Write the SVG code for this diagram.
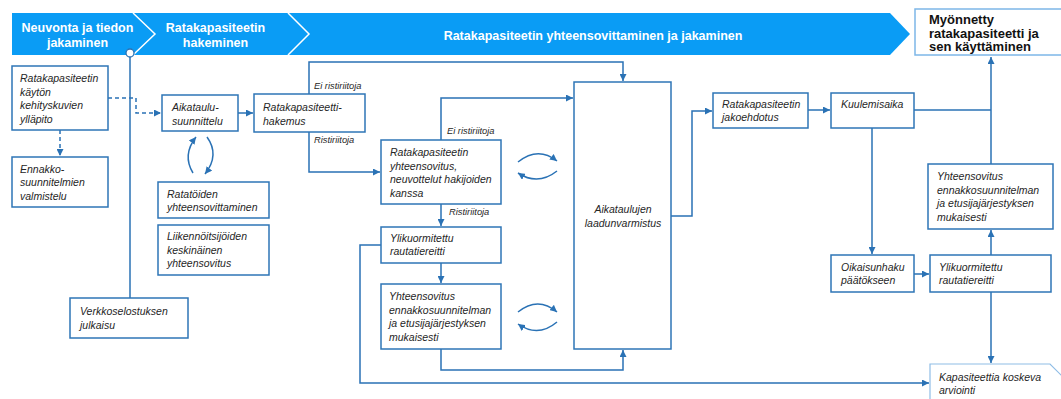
<svg xmlns="http://www.w3.org/2000/svg" width="1061" height="399" viewBox="0 0 1061 399">
<style>
.bx{fill:#fff;stroke:#2E75B6;stroke-width:1.5}
.t{font-family:"Liberation Sans",Arial,sans-serif;font-style:italic;font-size:10.5px;fill:#262626}
.lb{font-family:"Liberation Sans",Arial,sans-serif;font-style:italic;font-size:9.3px;fill:#262626}
.h{font-family:"Liberation Sans",Arial,sans-serif;font-weight:bold;font-size:12.5px;fill:#fff;text-anchor:middle}
.c{fill:none;stroke:#2A72B5;stroke-width:1.5}
.d{fill:none;stroke:#2A72B5;stroke-width:1.5;stroke-dasharray:4 3}
</style>
<defs>
<marker id="ah" viewBox="0 0 10 10" refX="10" refY="5" markerWidth="7" markerHeight="7" orient="auto" markerUnits="userSpaceOnUse"><path d="M0,0 L10,5 L0,10 z" fill="#2A72B5"/></marker>
</defs>
<g id="header">
<path d="M12,13 H890 L910,34 L890,55 H12 Z" fill="#0A9CF5"/>
<polyline points="133,13 155,34 133,55" fill="none" stroke="#fff" stroke-width="1.5"/>
<polyline points="288,13 309,34 288,55" fill="none" stroke="#fff" stroke-width="1.5"/>
<text class="h" x="77.5" y="32">Neuvonta ja tiedon</text>
<text class="h" x="77.5" y="47">jakaminen</text>
<text class="h" x="215.5" y="32">Ratakapasiteetin</text>
<text class="h" x="215.5" y="47">hakeminen</text>
<text class="h" x="593" y="40">Ratakapasiteetin yhteensovittaminen ja jakaminen</text>
</g>
<g id="myonnetty">
<rect x="915" y="9" width="150" height="46" fill="#fff" stroke="#7DB7E8" stroke-width="1.5"/>
<text font-family="Liberation Sans,Arial,sans-serif" font-weight="bold" font-size="13" fill="#111"><tspan x="929" y="24">Myönnetty</tspan><tspan x="929" y="37.5">ratakapasiteetti ja</tspan><tspan x="929" y="51">sen käyttäminen</tspan></text>
</g>
<g id="connectors">
<path class="d" d="M60,130 V156" marker-end="url(#ah)"/>
<path class="d" d="M108,98 H136 V113 H161" marker-end="url(#ah)"/>
<path class="c" d="M130,57 V298"/>
<circle cx="130" cy="53" r="4" fill="#fff" stroke="#2A72B5" stroke-width="1.3"/>
<path class="c" d="M238,113 H253" marker-end="url(#ah)"/>
<path class="c" d="M309,94 V62 H623 V81" marker-end="url(#ah)"/>
<path class="c" d="M309,132 V172 H380" marker-end="url(#ah)"/>
<path class="c" d="M441,140 V98 H573" marker-end="url(#ah)"/>
<path class="c" d="M441,204 V226" marker-end="url(#ah)"/>
<path class="c" d="M381,245 H360 V383 H929" marker-end="url(#ah)"/>
<path class="c" d="M441,263 V283" marker-end="url(#ah)"/>
<path class="c" d="M441,349 V370 H623 V350" marker-end="url(#ah)"/>
<path class="c" d="M671,216 H692 V111 H712" marker-end="url(#ah)"/>
<path class="c" d="M808,110 H830" marker-end="url(#ah)"/>
<path class="c" d="M914,110 H991"/>
<path class="c" d="M991,164 V57" marker-end="url(#ah)"/>
<path class="c" d="M872,128 V254" marker-end="url(#ah)"/>
<path class="c" d="M914,274 H929" marker-end="url(#ah)"/>
<path class="c" d="M991,255 V230" marker-end="url(#ah)"/>
<path class="c" d="M991,292 V363" marker-end="url(#ah)"/>
<path class="c" d="M193,173 Q182,155 196,137" marker-end="url(#ah)"/>
<path class="c" d="M207,137 Q220,155 205,174" marker-end="url(#ah)"/>
<path class="c" d="M518,162 Q538,146 557,161" marker-end="url(#ah)"/>
<path class="c" d="M557,171 Q538,186 518,173" marker-end="url(#ah)"/>
<path class="c" d="M518,312 Q538,296 557,312" marker-end="url(#ah)"/>
<path class="c" d="M557,322 Q538,338 518,324" marker-end="url(#ah)"/>
<text class="lb" x="314" y="89">Ei ristiriitoja</text>
<text class="lb" x="314" y="143">Ristiriitoja</text>
<text class="lb" x="447" y="134">Ei ristiriitoja</text>
<text class="lb" x="449" y="215">Ristiriitoja</text>
</g>
<g id="n1"><rect class="bx" x="12" y="66" width="96" height="64"/><text class="t"><tspan x="20" y="82">Ratakapasiteetin</tspan><tspan x="20" y="95.5">käytön</tspan><tspan x="20" y="109">kehityskuvien</tspan><tspan x="20" y="122.5">ylläpito</tspan></text></g>
<g id="n2"><rect class="bx" x="12" y="157" width="96" height="50"/><text class="t"><tspan x="20" y="173">Ennakko-</tspan><tspan x="20" y="186">suunnitelmien</tspan><tspan x="20" y="199.5">valmistelu</tspan></text></g>
<g id="n3"><rect class="bx" x="162" y="95" width="76" height="36"/><text class="t"><tspan x="172" y="111">Aikataulu-</tspan><tspan x="172" y="124.5">suunnittelu</tspan></text></g>
<g id="n4"><rect class="bx" x="254" y="94" width="111" height="38"/><text class="t"><tspan x="263" y="111">Ratakapasiteetti-</tspan><tspan x="263" y="124.5">hakemus</tspan></text></g>
<g id="n5"><rect class="bx" x="381" y="140" width="120" height="64"/><text class="t"><tspan x="390" y="156">Ratakapasiteetin</tspan><tspan x="390" y="169.5">yhteensovitus,</tspan><tspan x="390" y="183">neuvottelut hakijoiden</tspan><tspan x="390" y="196.5">kanssa</tspan></text></g>
<g id="n6"><rect class="bx" x="381" y="227" width="120" height="36"/><text class="t"><tspan x="390" y="241.5">Ylikuormitettu</tspan><tspan x="390" y="255">rautatiereitti</tspan></text></g>
<g id="n7"><rect class="bx" x="381" y="284" width="120" height="65"/><text class="t"><tspan x="389" y="300">Yhteensovitus</tspan><tspan x="389" y="313.5">ennakkosuunnitelman</tspan><tspan x="389" y="327">ja etusijajärjestyksen</tspan><tspan x="389" y="340.5">mukaisesti</tspan></text></g>
<g id="n8"><rect class="bx" x="158" y="182" width="111" height="36"/><text class="t"><tspan x="167" y="197.5">Ratatöiden</tspan><tspan x="167" y="211">yhteensovittaminen</tspan></text></g>
<g id="n9"><rect class="bx" x="158" y="225" width="111" height="50"/><text class="t"><tspan x="167" y="240">Liikennöitsijöiden</tspan><tspan x="167" y="253.5">keskinäinen</tspan><tspan x="167" y="267">yhteensovitus</tspan></text></g>
<g id="n10"><rect class="bx" x="70" y="298" width="118" height="40"/><text class="t"><tspan x="80" y="315">Verkkoselostuksen</tspan><tspan x="80" y="328.5">julkaisu</tspan></text></g>
<g id="n11"><rect class="bx" x="574" y="82" width="97" height="267"/><text class="t" text-anchor="middle"><tspan x="623" y="213">Aikataulujen</tspan><tspan x="623" y="226.5">laadunvarmistus</tspan></text></g>
<g id="n12"><rect class="bx" x="713" y="93" width="95" height="35"/><text class="t"><tspan x="722" y="107.5">Ratakapasiteetin</tspan><tspan x="722" y="121">jakoehdotus</tspan></text></g>
<g id="n13"><rect class="bx" x="831" y="93" width="83" height="35"/><text class="t"><tspan x="841" y="107.5">Kuulemisaika</tspan></text></g>
<g id="n14"><rect class="bx" x="831" y="255" width="83" height="37"/><text class="t"><tspan x="841" y="270.5">Oikaisunhaku</tspan><tspan x="841" y="284">päätökseen</tspan></text></g>
<g id="n15"><rect class="bx" x="930" y="255" width="121" height="37"/><text class="t"><tspan x="939" y="270.5">Ylikuormitettu</tspan><tspan x="939" y="284">rautatiereitti</tspan></text></g>
<g id="n16"><rect class="bx" x="928" y="164" width="125" height="65"/><text class="t"><tspan x="937" y="180">Yhteensovitus</tspan><tspan x="937" y="193.5">ennakkosuunnitelman</tspan><tspan x="937" y="207">ja etusijajärjestyksen</tspan><tspan x="937" y="220.5">mukaisesti</tspan></text></g>
<g id="n17"><path d="M930,404 V364 H1050 L1072,386" fill="#fff" stroke="#8FBDE6" stroke-width="1.2"/><text class="t"><tspan x="939" y="381">Kapasiteettia koskeva</tspan><tspan x="939" y="394">arviointi</tspan></text></g>
</svg>
